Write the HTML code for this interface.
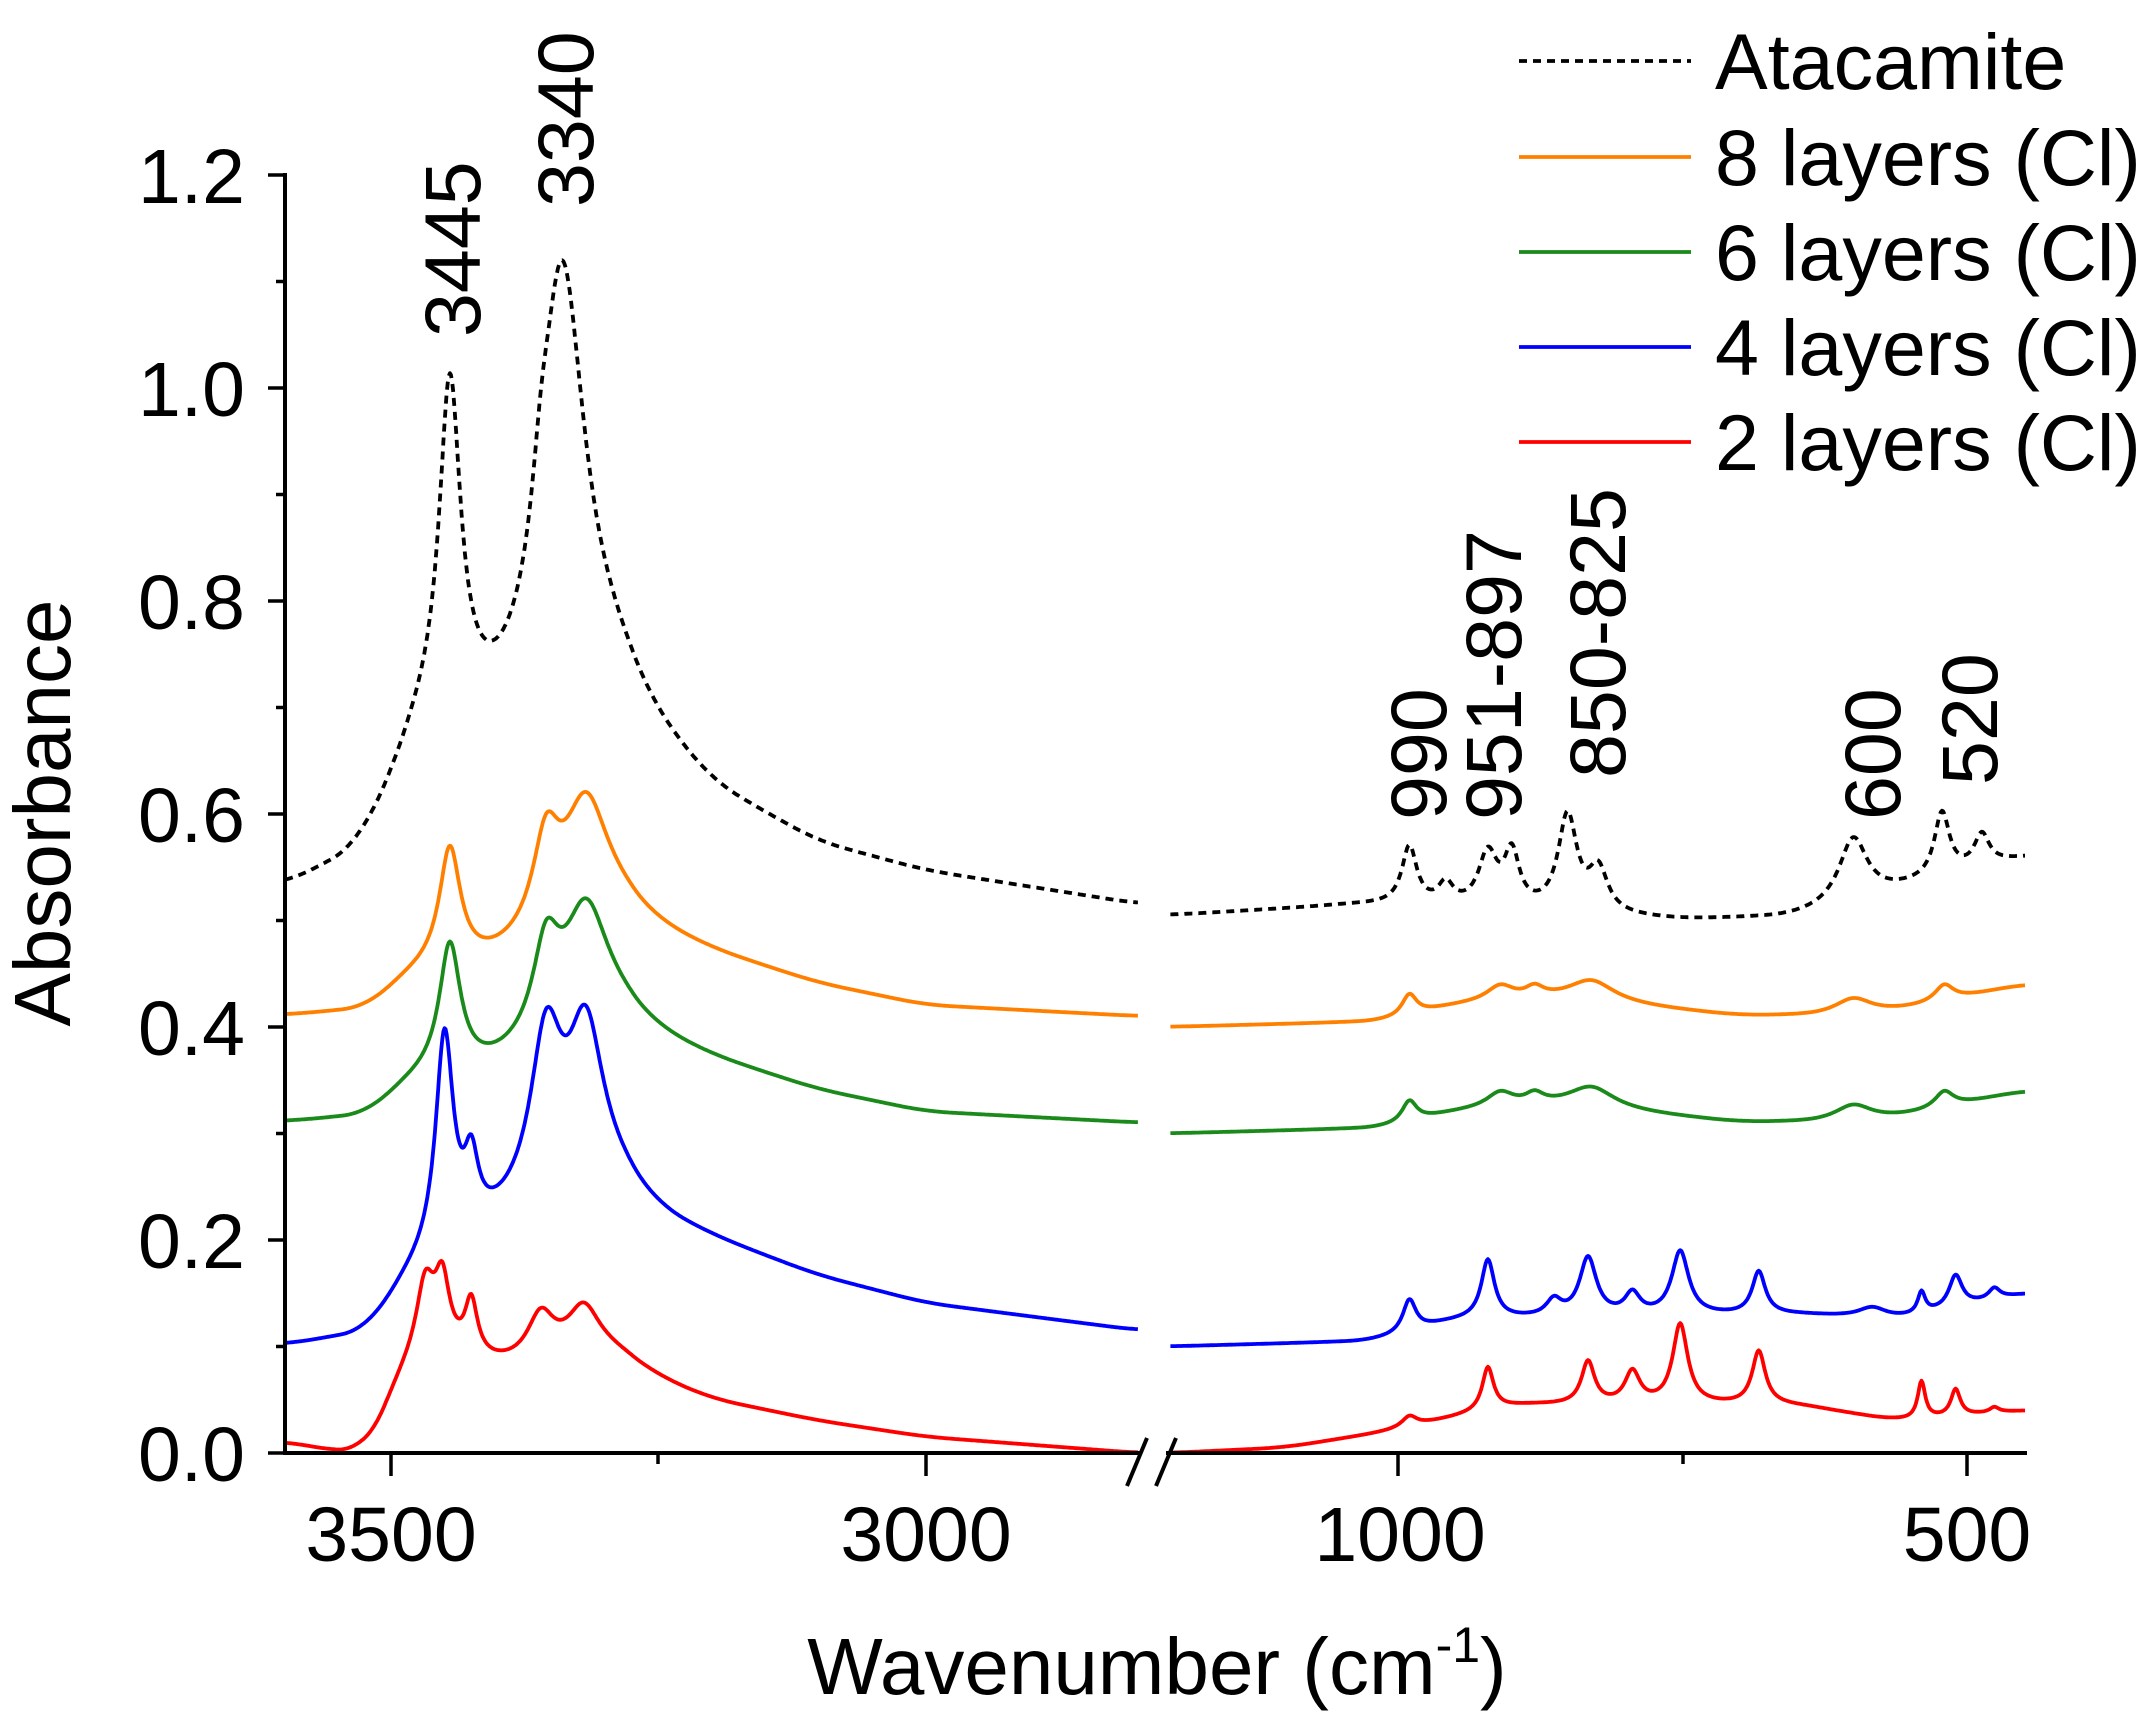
<!DOCTYPE html>
<html><head><meta charset="utf-8"><style>
html,body{margin:0;padding:0;background:#fff;}
svg{display:block;}
text{font-family:"Liberation Sans",Arial,sans-serif;fill:#000;}
</style></head><body>
<svg id="s" width="2149" height="1726" viewBox="0 0 2149 1726" xmlns="http://www.w3.org/2000/svg">
<rect width="2149" height="1726" fill="#fff"/>
<g id="curves" fill="none" stroke-width="3.8" stroke-linejoin="round"></g>
<g stroke="#000" stroke-width="4" fill="none">
<line x1="285" y1="173" x2="285" y2="1455"/>
<line x1="283" y1="1453" x2="1140" y2="1453"/>
<line x1="1166" y1="1453" x2="2027" y2="1453"/>
<line x1="1127" y1="1486" x2="1147" y2="1438"/>
<line x1="1156" y1="1486" x2="1176" y2="1438"/>
</g>
<g id="ticks" stroke="#000" stroke-width="3.5"></g>
<g font-size="77" text-anchor="end">
<text x="245" y="1481">0.0</text>
<text x="245" y="1268">0.2</text>
<text x="245" y="1055">0.4</text>
<text x="245" y="842">0.6</text>
<text x="245" y="629">0.8</text>
<text x="245" y="416">1.0</text>
<text x="245" y="203">1.2</text>
</g>
<g font-size="77" text-anchor="middle">
<text x="391" y="1561">3500</text>
<text x="926" y="1561">3000</text>
<text x="1400" y="1561">1000</text>
<text x="1967" y="1561">500</text>
</g>
<text x="1157" y="1694" font-size="80" text-anchor="middle">Wavenumber (cm<tspan font-size="50" dy="-32">-1</tspan><tspan dy="32">)</tspan></text>
<text transform="translate(70,813) rotate(-90)" font-size="80" text-anchor="middle">Absorbance</text>
<g font-size="79">
<text transform="translate(480,337) rotate(-90)">3445</text>
<text transform="translate(593,207) rotate(-90)">3340</text>
<text transform="translate(1446,820) rotate(-90)">990</text>
<text transform="translate(1521,820) rotate(-90)">951-897</text>
<text transform="translate(1625,778) rotate(-90)">850-825</text>
<text transform="translate(1900,820) rotate(-90)">600</text>
<text transform="translate(1997,785) rotate(-90)">520</text>
</g>
<g stroke-width="3.8">
<line x1="1519" y1="61" x2="1691" y2="61" stroke="#000" stroke-dasharray="8,6"/>
<line x1="1519" y1="157" x2="1691" y2="157" stroke="#ff8000"/>
<line x1="1519" y1="252" x2="1691" y2="252" stroke="#1a8a1a"/>
<line x1="1519" y1="347" x2="1691" y2="347" stroke="#0000ff"/>
<line x1="1519" y1="442" x2="1691" y2="442" stroke="#ff0000"/>
</g>
<g font-size="79">
<text x="1715" y="89">Atacamite</text>
<text x="1715" y="185">8 layers (Cl)</text>
<text x="1715" y="280">6 layers (Cl)</text>
<text x="1715" y="375">4 layers (Cl)</text>
<text x="1715" y="470">2 layers (Cl)</text>
</g>
</svg>
<script>
(function(){
var NS="http://www.w3.org/2000/svg";
function xL(w){return 391+(3500-w)*1.07;}
function xR(w){return 1398+(1000-w)*1.138;}
function Y(a){return 1453-a*1065;}
function interp(pts,w){
 if(w>=pts[0][0])return pts[0][1];
 for(var i=0;i<pts.length-1;i++){var a=pts[i],b=pts[i+1];
  if(w<=a[0]&&w>=b[0]){var t=(a[0]-w)/(a[0]-b[0]);return a[1]+t*(b[1]-a[1]);}}
 return pts[pts.length-1][1];}
function sbase(pts,w){var s=0,n=0;for(var k=-25;k<=25;k+=2){s+=interp(pts,w+k);n++;}return s/n;}
function f(base,peaks,w){var v=sbase(base,w);for(var i=0;i<peaks.length;i++){var p=peaks[i];var d=(w-p[0])/p[2];v+=p[1]/(1+d*d);}return v;}
function path(base,peaks,w0,w1,xf){var d="";for(var w=w0;w>=w1;w-=1){d+=(d?"L":"M")+xf(w).toFixed(1)+","+Y(f(base,peaks,w)).toFixed(1);}return d;}
var series=[
 {c:"#000",dash:"8,6",
  L:[[[3599,0.53],[3530,0.56],[3490,0.64],[3460,0.70],[3400,0.68],[3300,0.74],[3260,0.68],[3230,0.65],[3200,0.62],[3100,0.57],[3000,0.545],[2900,0.53],[2802,0.515]],
     [[3445,0.30,12],[3340,0.39,25],[3360,0.05,10]]],
  R:[[[1200,0.505],[1030,0.515],[750,0.5],[650,0.503],[449,0.56]],
     [[990,0.055,8],[958,0.02,8],[921,0.05,10],[900,0.05,8],[851,0.09,10],[824,0.04,10],[600,0.06,15],[522,0.06,8],[487,0.03,8]]]},
 {c:"#ff8000",
  L:[[[3599,0.41],[3520,0.415],[3480,0.45],[3400,0.46],[3300,0.52],[3250,0.49],[3200,0.47],[3100,0.44],[3000,0.42],[2802,0.41]],
     [[3445,0.11,12],[3355,0.08,15],[3318,0.10,25]]],
  R:[[[1200,0.40],[1010,0.405],[950,0.42],[850,0.425],[700,0.41],[620,0.41],[560,0.415],[449,0.44]],
     [[990,0.02,8],[910,0.015,15],[880,0.01,10],[830,0.02,25],[600,0.015,20],[520,0.015,10]]]},
 {c:"#1a8a1a",
  L:[[[3599,0.31],[3520,0.315],[3480,0.35],[3400,0.36],[3300,0.42],[3250,0.39],[3200,0.37],[3100,0.34],[3000,0.32],[2802,0.31]],
     [[3445,0.12,12],[3355,0.08,15],[3318,0.10,25]]],
  R:[[[1200,0.30],[1010,0.305],[950,0.32],[850,0.325],[700,0.31],[620,0.31],[560,0.315],[449,0.34]],
     [[990,0.02,8],[910,0.015,15],[880,0.01,10],[830,0.02,25],[600,0.015,20],[520,0.015,10]]]},
 {c:"#0000ff",
  L:[[[3599,0.10],[3520,0.11],[3480,0.17],[3400,0.21],[3300,0.26],[3250,0.22],[3200,0.20],[3100,0.165],[3000,0.14],[2802,0.115]],
     [[3450,0.2,10],[3425,0.06,8],[3355,0.15,18],[3318,0.14,20]]],
  R:[[[1200,0.1],[1020,0.105],[950,0.125],[650,0.13],[560,0.125],[449,0.15]],
     [[990,0.03,7],[921,0.055,7],[863,0.015,8],[833,0.055,9],[794,0.02,8],[752,0.06,9],[683,0.04,7],[583,0.01,15],[540,0.02,4],[510,0.03,7],[476,0.01,6]]]},
 {c:"#ff0000",
  L:[[[3599,0.01],[3550,0.0],[3525,0.0],[3500,0.04],[3480,0.11],[3460,0.1],[3400,0.08],[3300,0.10],[3250,0.07],[3200,0.05],[3100,0.03],[3000,0.015],[2802,0.0]],
     [[3468,0.06,10],[3452,0.06,8],[3425,0.05,7],[3360,0.04,15],[3320,0.04,18]]],
  R:[[[1200,0],[1100,0.005],[1010,0.02],[900,0.045],[650,0.045],[560,0.03],[449,0.04]],
     [[990,0.01,8],[921,0.04,6],[833,0.04,7],[794,0.03,8],[752,0.075,8],[683,0.05,7],[540,0.035,4],[510,0.025,5],[476,0.005,5]]]}
];
var g=document.getElementById("curves");
series.forEach(function(s){
 [["L",3599,2802,xL],["R",1200,449,xR]].forEach(function(seg){
  var p=document.createElementNS(NS,"path");
  p.setAttribute("d",path(s[seg[0]][0],s[seg[0]][1],seg[1],seg[2],seg[3]));
  p.setAttribute("stroke",s.c);
  if(s.dash)p.setAttribute("stroke-dasharray",s.dash);
  g.appendChild(p);});
});
var t=document.getElementById("ticks");
function ln(x1,y1,x2,y2){var l=document.createElementNS(NS,"line");l.setAttribute("x1",x1);l.setAttribute("y1",y1);l.setAttribute("x2",x2);l.setAttribute("y2",y2);t.appendChild(l);}
for(var i=0;i<=12;i++){var y=Y(i*0.1);ln(i%2?276:268,y,285,y);}
[391,926,1398,1967].forEach(function(x){ln(x,1453,x,1476);});
[658,1683].forEach(function(x){ln(x,1453,x,1464);});
})();
</script>
</body></html>
